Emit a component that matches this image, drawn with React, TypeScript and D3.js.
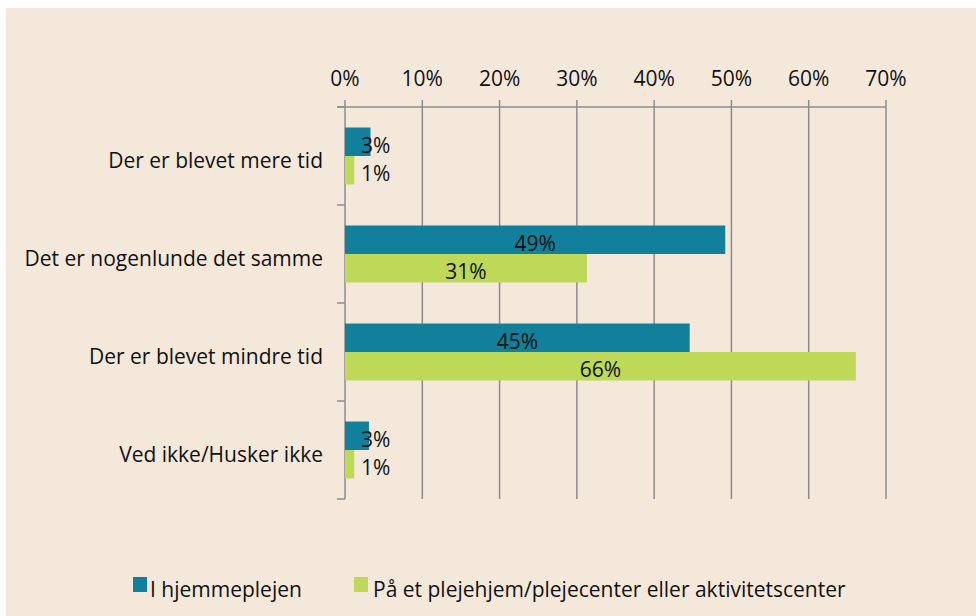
import React from "react";
import * as d3 from "d3";

const categories = [
  "Der er blevet mere tid",
  "Det er nogenlunde det samme",
  "Der er blevet mindre tid",
  "Ved ikke/Husker ikke",
];
const seriesNames = ["I hjemmeplejen", "På et plejehjem/plejecenter eller aktivitetscenter"];
const hjemmeplejen = [0.033, 0.492, 0.446, 0.031];
const plejehjem = [0.012, 0.313, 0.661, 0.012];
const seriesColors = ["#127F9B", "#BED857"];
const xTicks = [0, 0.1, 0.2, 0.3, 0.4, 0.5, 0.6, 0.7];

const W = 976;
const H = 616;
const FONT = "'Open Sans', 'Noto Sans', sans-serif";

export default function App() {
  const left = 345;
  const right = 886;
  const top = 107;
  const bottom = 499;
  const x = d3.scaleLinear().domain([0, 0.7]).range([left, right]);
  const y = d3.scaleBand<string>().domain(categories).range([top, bottom]).padding(0);
  const inner = d3
    .scaleBand<number>()
    .domain([0, 1])
    .range([0, y.bandwidth()])
    .paddingInner(0)
    .paddingOuter(0.72);
  const series = [hjemmeplejen, plejehjem];
  const fmt = d3.format(".0%");
  const grid = "#8C8C8C";
  const fs = 21;

  return (
    <svg
      width={W}
      height={H}
      style={{ position: "absolute", left: 0, top: 0, display: "block" }}
    >
      <rect x={0} y={0} width={W} height={H} fill="#ffffff" />
      <rect x={6} y={8} width={W - 6} height={H - 8} fill="#F4E8DB" />
      {xTicks.slice(1).map((t) => (
        <line key={"g" + t} x1={x(t)} x2={x(t)} y1={top - 7} y2={bottom} stroke={grid} strokeWidth={1.5} />
      ))}
      <line x1={left - 8} x2={right} y1={top} y2={top} stroke={grid} strokeWidth={1.5} />
      <line x1={left} x2={left} y1={top - 7} y2={bottom} stroke={grid} strokeWidth={1.5} />
      {[...categories.map((c) => y(c)!), bottom].map((v, i) => (
        <line key={"ct" + i} x1={left - 8} x2={left} y1={v} y2={v} stroke={grid} strokeWidth={1.5} />
      ))}
      {xTicks.map((t) => (
        <text key={"t" + t} x={x(t)} y={86} textAnchor="middle" fontFamily={FONT} fontSize={fs} fill="#111">
          {fmt(t)}
        </text>
      ))}
      {categories.map((c, ci) =>
        series.map((s, si) => {
          const y0 = y(c)! + inner(si)!;
          const h = inner.bandwidth();
          const xe = x(s[ci]);
          const label = fmt(s[ci]);
          const narrow = xe - left < 60;
          return (
            <g key={c + si}>
              <rect x={left} y={y0} width={xe - left} height={h} fill={seriesColors[si]} />
              <text
                x={narrow ? left + 16 : (left + xe) / 2}
                y={y0 + h / 2 + 3}
                textAnchor={narrow ? "start" : "middle"}
                dominantBaseline="central"
                fontFamily={FONT}
                fontSize={fs}
                fill="#111"
              >
                {label}
              </text>
            </g>
          );
        })
      )}
      {categories.map((c) => (
        <text
          key={"l" + c}
          x={323}
          y={y(c)! + y.bandwidth() / 2 + 4}
          textAnchor="end"
          dominantBaseline="central"
          fontFamily={FONT}
          fontSize={fs}
          fill="#111"
        >
          {c}
        </text>
      ))}
      <rect x={133} y={577} width={14} height={15} fill={seriesColors[0]} />
      <text x={150} y={597} fontFamily={FONT} fontSize={fs} fill="#111">{seriesNames[0]}</text>
      <rect x={354} y={577} width={14} height={15} fill={seriesColors[1]} />
      <text x={373} y={597} fontFamily={FONT} fontSize={fs} fill="#111">{seriesNames[1]}</text>
    </svg>
  );
}
